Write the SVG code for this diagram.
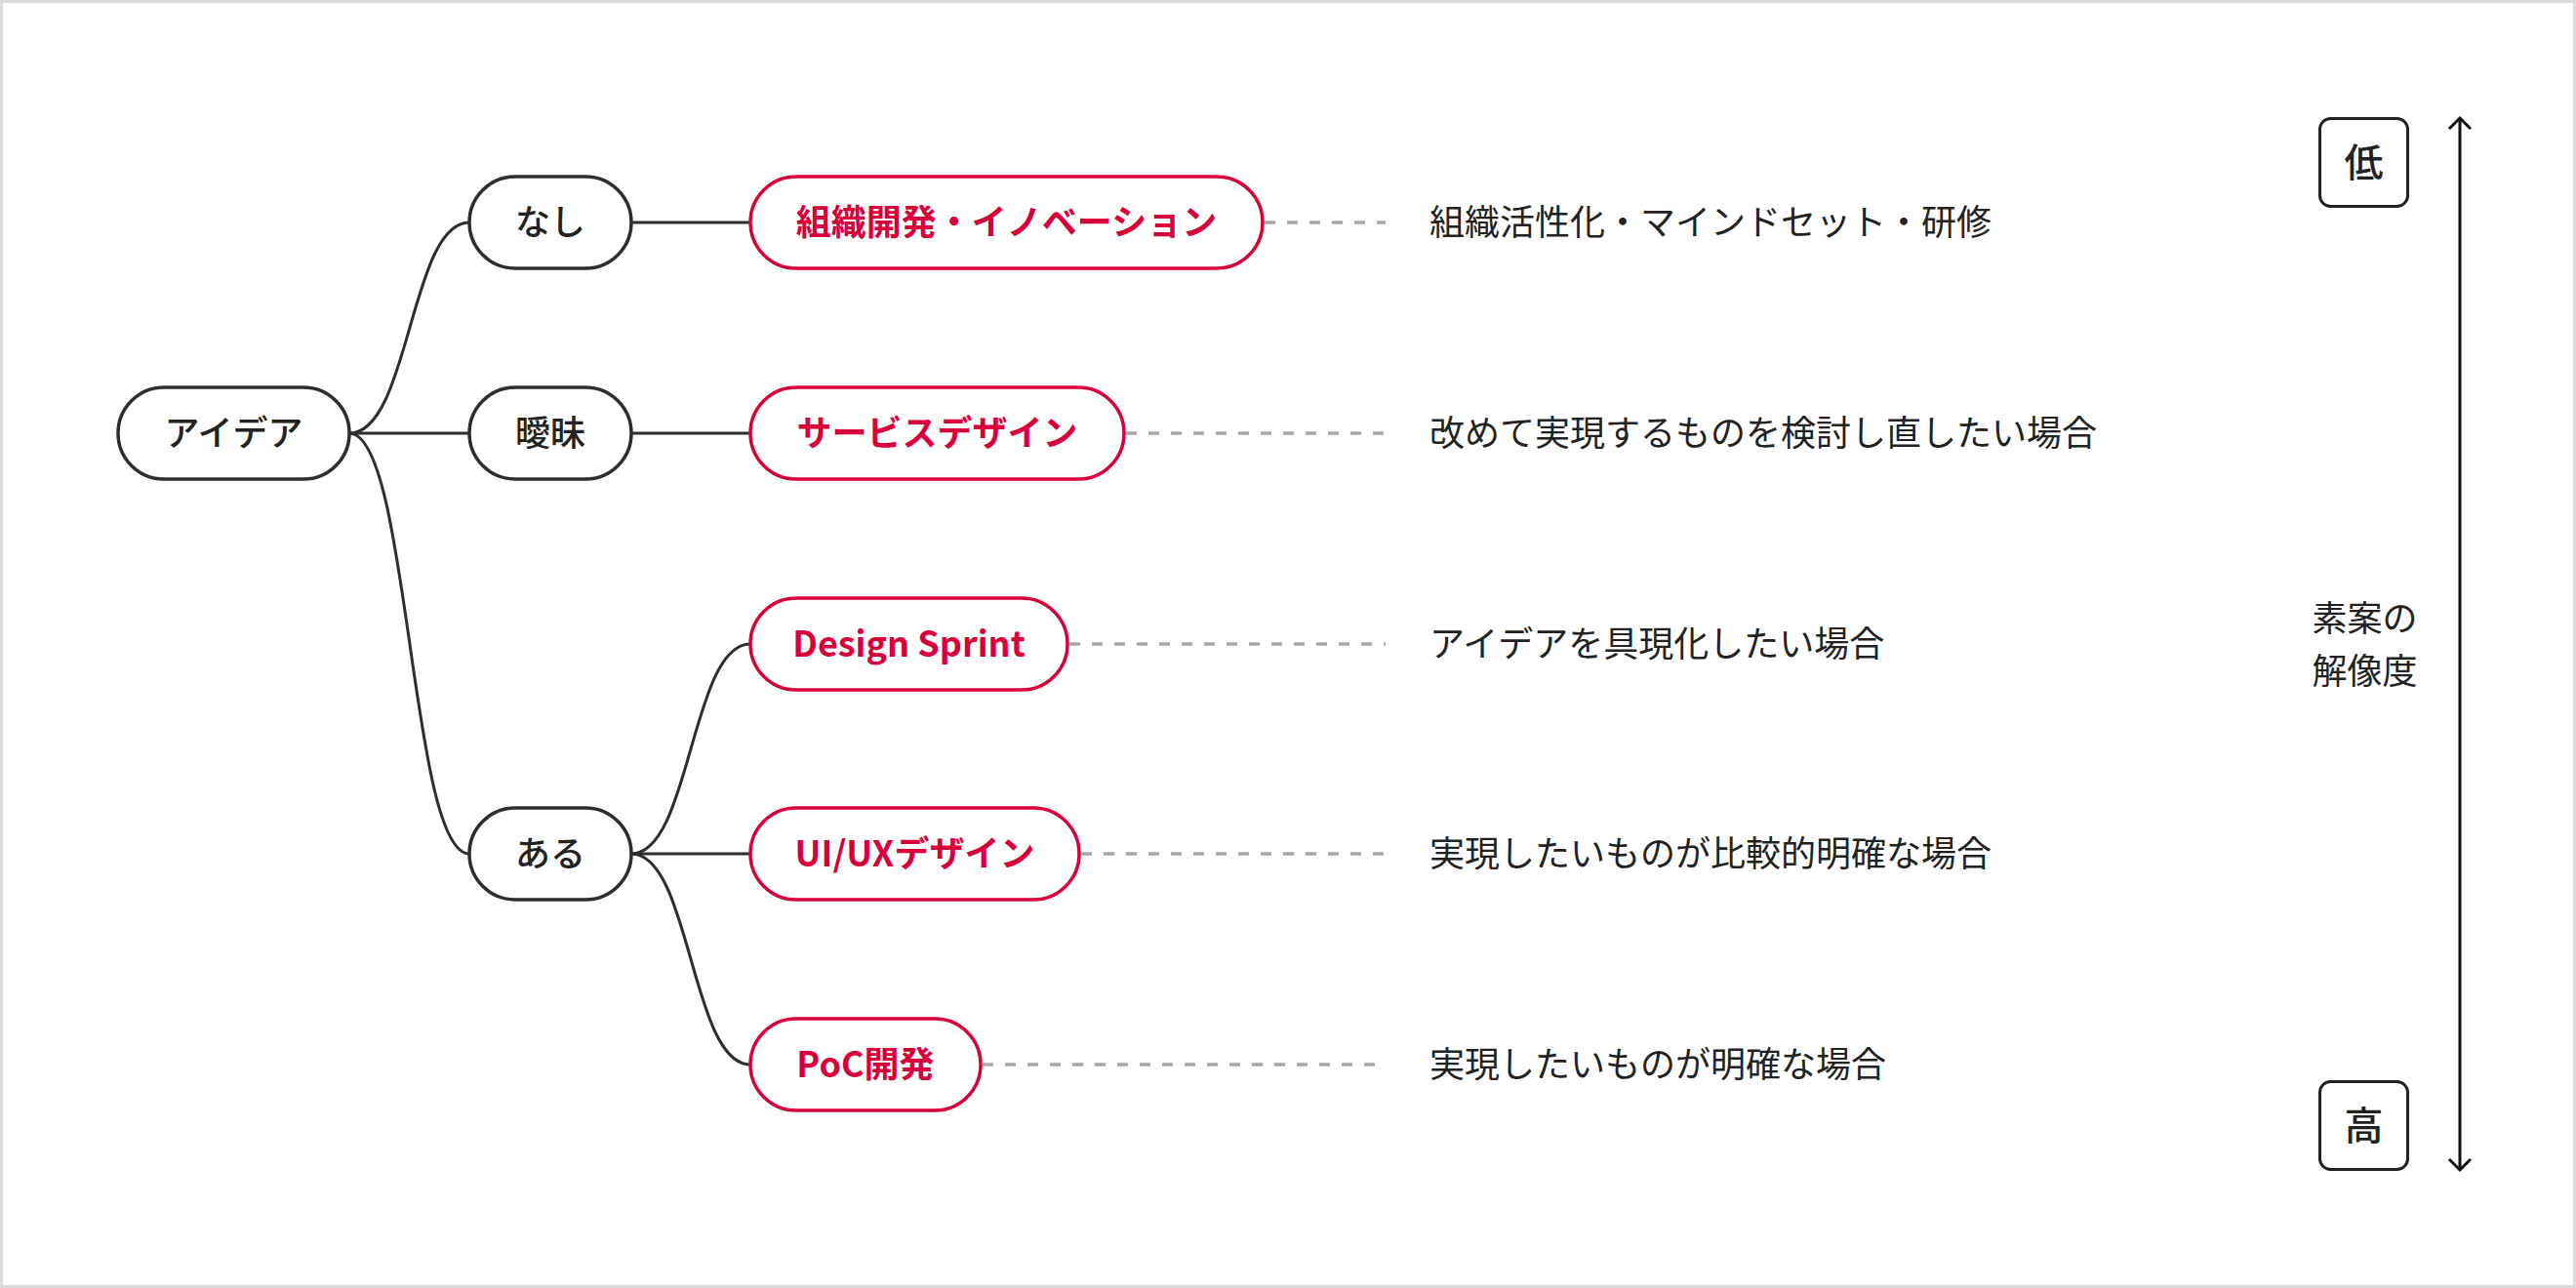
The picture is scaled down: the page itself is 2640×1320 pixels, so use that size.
<svg xmlns="http://www.w3.org/2000/svg" width="2640" height="1320" viewBox="0 0 2640 1320">
<style>
text{font-family:"Noto Sans CJK JP","Noto Sans",sans-serif;font-size:36px;}
.bn{fill:#fff;stroke:#2e2e2e;stroke-width:3.5;}
.rn{fill:#fff;stroke:#d7003a;stroke-width:3.5;}
.bt{fill:#222;font-weight:500;text-anchor:middle;}
.rt{fill:#d7003a;font-weight:700;text-anchor:middle;}
.dt{fill:#222;font-weight:400;}
.lh{fill:#222;font-weight:500;font-size:40px;text-anchor:middle;}
.ln{fill:none;stroke:#2e2e2e;stroke-width:3;}
.ds{fill:none;stroke:#a8a8a8;stroke-width:3.5;stroke-dasharray:11 12;}
</style>
<rect x="1.5" y="1.5" width="2637" height="1317" fill="#fff" stroke="#dcdcdc" stroke-width="3"/>
<g id="connectors">
<path class="ln" d="M358,444 C420,444 420,228 481,228"/>
<path class="ln" d="M358,444 L481,444"/>
<path class="ln" d="M358,444 C420,444 420,875 481,875"/>
<path class="ln" d="M647,228 L769,228"/>
<path class="ln" d="M647,444 L769,444"/>
<path class="ln" d="M647,875 C708,875 708,660 769,660"/>
<path class="ln" d="M647,875 L769,875"/>
<path class="ln" d="M647,875 C708,875 708,1091 769,1091"/>
<path class="ds" d="M1296,228 H1420"/>
<path class="ds" d="M1154,444 H1420"/>
<path class="ds" d="M1096,660 H1420"/>
<path class="ds" d="M1108,875 H1420"/>
<path class="ds" d="M1007,1091 H1420"/>
</g>
<g id="n-idea"><rect class="bn" x="121" y="397" width="237" height="94" rx="47"/><text class="bt" x="239.5" y="457">アイデア</text></g>
<g id="n-nashi"><rect class="bn" x="481" y="181" width="166" height="94" rx="47"/><text class="bt" x="564" y="241">なし</text></g>
<g id="n-aimai"><rect class="bn" x="481" y="397" width="166" height="94" rx="47"/><text class="bt" x="564" y="457">曖昧</text></g>
<g id="n-aru"><rect class="bn" x="481" y="828" width="166" height="94" rx="47"/><text class="bt" x="564" y="888">ある</text></g>
<g id="n-org"><rect class="rn" x="769" y="181" width="525" height="94" rx="47"/><text class="rt" x="1031.5" y="241">組織開発・イノベーション</text></g>
<g id="n-service"><rect class="rn" x="769" y="397" width="383" height="94" rx="47"/><text class="rt" x="960.5" y="457">サービスデザイン</text></g>
<g id="n-sprint"><rect class="rn" x="769" y="613" width="325" height="94" rx="47"/><text class="rt" x="931.5" y="673">Design Sprint</text></g>
<g id="n-uiux"><rect class="rn" x="769" y="828" width="337" height="94" rx="47"/><text class="rt" x="937.5" y="888">UI/UXデザイン</text></g>
<g id="n-poc"><rect class="rn" x="769" y="1044" width="236" height="94" rx="47"/><text class="rt" x="887" y="1104">PoC開発</text></g>
<g id="descriptions">
<text class="dt" x="1465" y="241">組織活性化・マインドセット・研修</text>
<text class="dt" x="1465" y="457">改めて実現するものを検討し直したい場合</text>
<text class="dt" x="1465" y="673">アイデアを具現化したい場合</text>
<text class="dt" x="1465" y="888">実現したいものが比較的明確な場合</text>
<text class="dt" x="1465" y="1104">実現したいものが明確な場合</text>
</g>
<g id="scale">
<g id="n-low"><rect x="2377.5" y="121.5" width="90" height="90" rx="11" fill="#fff" stroke="#222" stroke-width="3"/><text class="lh" x="2422.5" y="181">低</text></g>
<g id="n-high"><rect x="2377.5" y="1108.5" width="90" height="90" rx="11" fill="#fff" stroke="#222" stroke-width="3"/><text class="lh" x="2422.5" y="1168">高</text></g>
<path d="M2521,122 V1198" fill="none" stroke="#111" stroke-width="3"/>
<path d="M2510,132 L2521,121 L2532,132" fill="none" stroke="#111" stroke-width="3"/>
<path d="M2510,1188 L2521,1199 L2532,1188" fill="none" stroke="#111" stroke-width="3"/>
<text class="bt" x="2423.5" y="647" style="font-weight:400">素案の</text>
<text class="bt" x="2423.5" y="701" style="font-weight:400">解像度</text>
</g>
</svg>
